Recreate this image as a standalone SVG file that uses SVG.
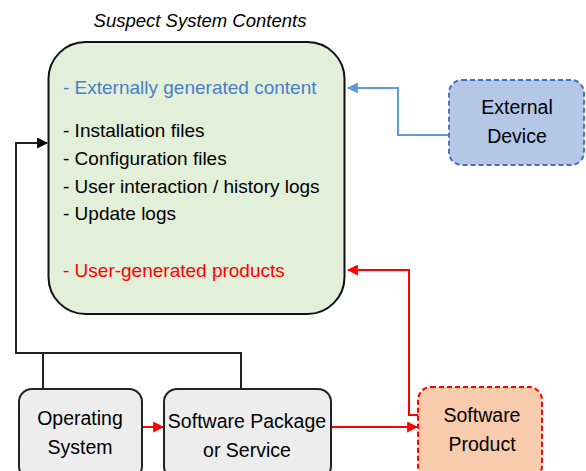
<svg xmlns="http://www.w3.org/2000/svg" width="586" height="471" viewBox="0 0 586 471">
<defs>
<style>
.t{font-family:"Liberation Sans",Arial,sans-serif;font-size:19px;fill:#000}
.b{font-size:19.5px}
.c{text-anchor:middle}
.ln{fill:none;stroke-width:2}
</style>
<marker id="ab" viewBox="0 0 10 10" refX="9" refY="5" markerWidth="5.5" markerHeight="5.5" orient="auto"><path d="M0,0L10,5L0,10z" fill="#000"/></marker>
<marker id="au" viewBox="0 0 10 10" refX="9" refY="5" markerWidth="5.5" markerHeight="5.5" orient="auto"><path d="M0,0L10,5L0,10z" fill="#5b9bd5"/></marker>
<marker id="ar" viewBox="0 0 10 10" refX="9" refY="5" markerWidth="5.5" markerHeight="5.5" orient="auto"><path d="M0,0L10,5L0,10z" fill="#ff0000"/></marker>
</defs>
<rect width="586" height="471" fill="#fff"/>
<text x="200" y="27" class="t c" style="font-style:italic;font-size:18.5px">Suspect System Contents</text>
<g id="connectors">
<path class="ln" d="M448,135H398V88H348" stroke="#5b9bd5" marker-end="url(#au)"/>
<path class="ln" d="M43,389V353M241,389V353H16V143H47" stroke="#222" marker-end="url(#ab)"/>
<path class="ln" d="M142,427H163" stroke="#ff0000" marker-end="url(#ar)"/>
<path class="ln" d="M331,427H417" stroke="#ff0000" marker-end="url(#ar)"/>
<path class="ln" d="M418,415H409V270H348" stroke="#ff0000" marker-end="url(#ar)"/>
</g>
<g id="suspect">
<rect x="48.5" y="42" width="296" height="272" rx="37" fill="#e2efd9" stroke="#111" stroke-width="2"/>
<text x="63" y="94" class="t" style="fill:#4a7ec9">- Externally generated content</text>
<text x="63" y="137" class="t">- Installation files</text>
<text x="63" y="165" class="t">- Configuration files</text>
<text x="63" y="193" class="t">- User interaction / history logs</text>
<text x="63" y="220" class="t">- Update logs</text>
<text x="63" y="277" class="t" style="fill:#ff0000">- User-generated products</text>
</g>
<g id="external">
<rect x="449" y="80" width="135" height="85" rx="13" fill="#b4c7e7" stroke="#4472c4" stroke-width="2" stroke-dasharray="5,3"/>
<text x="517" y="114" class="t b c">External</text>
<text x="517" y="143" class="t b c">Device</text>
</g>
<g id="os">
<rect x="19" y="389" width="123" height="90" rx="13" fill="#ededed" stroke="#222" stroke-width="2"/>
<text x="80" y="425" class="t b c">Operating</text>
<text x="80" y="454" class="t b c">System</text>
</g>
<g id="swpkg">
<rect x="164" y="389" width="167" height="90" rx="13" fill="#ededed" stroke="#222" stroke-width="2"/>
<text x="247" y="428" class="t b c">Software Package</text>
<text x="247" y="457" class="t b c">or Service</text>
</g>
<g id="product">
<rect x="418" y="387" width="124" height="92" rx="13" fill="#f8cbad" stroke="#ff0000" stroke-width="2" stroke-dasharray="5,3"/>
<text x="482" y="422" class="t b c">Software</text>
<text x="482" y="451" class="t b c">Product</text>
</g>
</svg>
